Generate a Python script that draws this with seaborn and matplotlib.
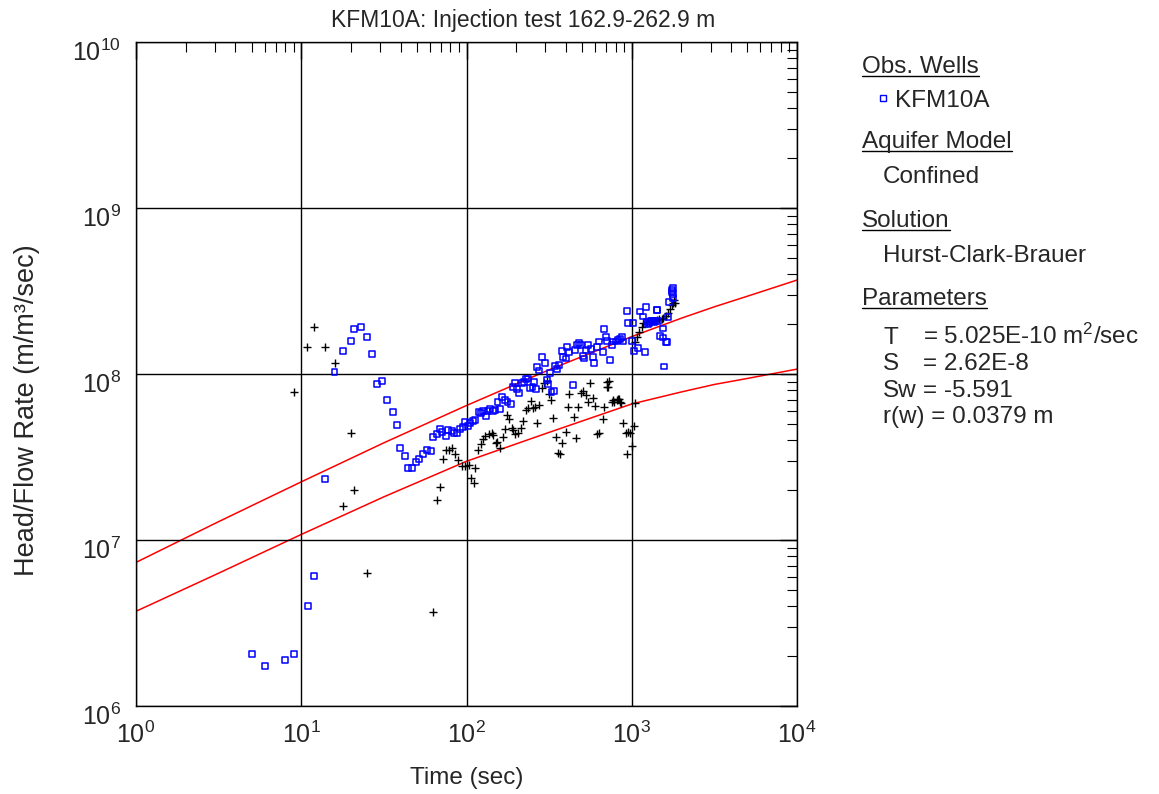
import numpy as np
import pandas as pd
import matplotlib
matplotlib.use("Agg")
import matplotlib.pyplot as plt
import seaborn as sns
from matplotlib.lines import Line2D
from matplotlib.transforms import ScaledTranslation
from matplotlib.ticker import LogLocator, FuncFormatter, NullFormatter

# ---------------- data ----------------
blue_t = [5.03, 6.04, 7.97, 9.04, 11.0, 11.9, 13.9, 15.9, 17.9, 19.9, 20.9, 23.1, 24.9, 26.8,
          28.9, 30.7, 33.0, 35.7, 37.8, 39.6, 42.6, 44.5, 46.8, 49.5, 51.8, 54.8, 57.7, 61.2,
          63.0, 66.0, 69.1, 71.4, 74.8, 77.6, 81.7, 84.4, 87.6, 91.7, 95.7, 98.4, 101.7, 105,
          109, 113, 119, 123, 126, 131, 134, 139, 144, 149, 154, 160, 165, 171, 177, 185, 192,
          197, 203, 209, 216, 223, 229, 237, 242, 251, 256, 263, 268, 276, 285, 299, 308, 313,
          320, 327, 338, 343, 355, 365, 377, 385, 400, 407, 419, 443, 454, 464, 482, 491, 504,
          514, 528, 546, 564, 585, 591, 614, 637, 667, 679, 698, 711, 738, 755, 774, 803, 829,
          849, 868, 889, 931, 953, 998, 1023, 1032, 1097, 1122, 1164, 1202, 1219, 1231, 1250,
          1276, 1300, 1320, 1339, 1360, 1383, 1415, 1429, 1448, 1483, 1538, 1553, 1567, 1611,
          1641, 1664, 1690, 1746, 1754, 1771, 1787, 1787]
blue_v = [2.06e6, 1.74e6, 1.89e6, 2.06e6, 4.0e6, 6.1e6, 2.32e7, 1.03e8, 1.38e8, 1.59e8, 1.87e8,
          1.93e8, 1.68e8, 1.32e8, 8.7e7, 9.1e7, 7.0e7, 5.9e7, 4.95e7, 3.6e7, 3.2e7, 2.73e7,
          2.73e7, 2.94e7, 3.09e7, 3.3e7, 3.5e7, 3.42e7, 4.16e7, 4.33e7, 4.68e7, 4.46e7, 4.25e7,
          4.6e7, 4.54e7, 4.42e7, 4.42e7, 4.64e7, 4.82e7, 5.12e7, 4.89e7, 5.05e7, 5.2e7, 5.3e7,
          5.93e7, 5.85e7, 6.0e7, 5.58e7, 6.0e7, 6.12e7, 6.0e7, 6.07e7, 6.8e7, 6.18e7, 7.24e7,
          6.97e7, 6.8e7, 6.6e7, 8.3e7, 8.8e7, 8.1e7, 7.66e7, 8.87e7, 9.0e7, 9.3e7, 9.4e7, 8.2e7,
          8.3e7, 9.0e7, 8.1e7, 1.10e8, 1.05e8, 1.27e8, 1.17e8, 9.2e7, 8.7e7, 1.01e8, 7.8e7,
          7.94e7, 1.12e8, 1.07e8, 1.13e8, 1.38e8, 1.27e8, 1.24e8, 1.46e8, 1.35e8, 8.6e7, 1.40e8,
          1.50e8, 1.53e8, 1.50e8, 1.28e8, 1.24e8, 1.40e8, 1.50e8, 1.41e8, 1.26e8, 1.17e8,
          1.46e8, 1.57e8, 1.35e8, 1.86e8, 1.68e8, 1.59e8, 1.21e8, 1.50e8, 1.57e8, 1.57e8,
          1.60e8, 1.62e8, 1.68e8, 1.57e8, 2.41e8, 2.04e8, 1.59e8, 2.04e8, 1.38e8, 1.43e8,
          2.38e8, 2.22e8, 1.35e8, 2.52e8, 2.07e8, 2.0e8, 2.02e8, 2.1e8, 2.09e8, 2.07e8, 2.05e8,
          2.09e8, 2.43e8, 2.43e8, 2.09e8, 1.69e8, 1.66e8, 1.88e8, 1.11e8, 1.55e8, 1.55e8,
          2.21e8, 2.73e8, 3.21e8, 3.13e8, 3.03e8, 2.86e8, 3.28e8]

cross_t = [9.04, 10.9, 12.0, 14.0, 16.0, 18.0, 19.9, 20.9, 25.0, 63.0, 66.0, 69.1, 72.4, 74.8,
           78.7, 82, 85.2, 88.4, 93.5, 98, 103, 107, 111, 112, 118, 122, 125, 129, 136, 142,
           145, 151, 154, 160, 166, 171, 177, 182, 188, 192, 197, 206, 213, 221, 229, 237, 244,
           251, 259, 266, 276, 285, 294, 306, 317, 323, 335, 348, 359, 368, 377, 400, 409, 419,
           448, 460, 475, 491, 509, 528, 546, 558, 585, 600, 619, 637, 667, 679, 705, 711, 721,
           731, 755, 766, 781, 811, 829, 841, 849, 857, 889, 922, 931, 953, 975, 998, 1032,
           1047, 1040, 1072, 1112, 1148, 1175, 1231, 1276, 1318, 1363, 1415, 1468, 1516, 1552,
           1611, 1664, 1703, 1743, 1785, 1800, 1827]
cross_v = [7.8e7, 1.46e8, 1.93e8, 1.46e8, 1.17e8, 1.61e7, 4.43e7, 2.01e7, 6.3e6, 3.7e6, 1.74e7,
           2.1e7, 3.06e7, 3.5e7, 3.5e7, 3.6e7, 3.3e7, 3.03e7, 2.81e7, 2.81e7, 2.83e7, 2.36e7,
           2.22e7, 2.73e7, 3.49e7, 3.79e7, 4.04e7, 4.23e7, 4.36e7, 4.44e7, 4.3e7, 3.86e7,
           3.91e7, 3.57e7, 4.16e7, 4.65e7, 5.66e7, 5.33e7, 4.71e7, 4.6e7, 4.36e7, 4.4e7, 4.71e7,
           5.24e7, 6.07e7, 6.21e7, 6.9e7, 6.21e7, 6.3e7, 5.05e7, 6.5e7, 8.2e7, 8.87e7, 9.1e7,
           7.59e7, 6.97e7, 5.41e7, 4.16e7, 3.33e7, 3.3e7, 3.82e7, 4.5e7, 6.36e7, 7.59e7, 5.48e7,
           4.09e7, 6.3e7, 7.66e7, 7.94e7, 7.48e7, 6.8e7, 8.87e7, 7.13e7, 6.41e7, 4.36e7, 4.4e7,
           5.33e7, 6.3e7, 9.0e7, 8.4e7, 8.3e7, 9.1e7, 6.8e7, 6.97e7, 6.8e7, 6.97e7, 7.03e7,
           7.03e7, 6.8e7, 6.65e7, 5.1e7, 4.4e7, 3.3e7, 4.5e7, 4.44e7, 3.68e7, 4.87e7, 6.65e7,
           1.55e8, 1.68e8, 1.80e8, 1.91e8, 2.02e8, 2.04e8, 2.07e8, 2.09e8, 2.09e8, 2.11e8,
           2.13e8, 2.13e8, 2.16e8, 2.23e8, 2.34e8, 2.45e8, 2.6e8, 2.69e8, 2.8e8, 2.67e8]

fit_t = [1, 3.162, 10, 31.62, 100, 316.2, 1000, 2000, 3162, 5000, 10000]
fit_upper = [7.33e6, 1.29e7, 2.24e7, 3.85e7, 6.46e7, 1.06e8, 1.68e8, 2.17e8, 2.54e8, 2.94e8,
             3.68e8]
fit_lower = [3.72e6, 6.31e6, 1.08e7, 1.82e7, 2.98e7, 4.45e7, 6.6e7, 7.8e7, 8.65e7, 9.4e7,
             1.07e8]

x_ticks = [1, 10, 100, 1000, 10000]
y_ticks = [1e6, 1e7, 1e8, 1e9, 1e10]

title = "KFM10A: Injection test 162.9-262.9 m"
xlabel = "Time (sec)"
ylabel = "Head/Flow Rate (m/m\u00b3/sec)"

# ---------------- style ----------------
sns.set_style("white")
plt.rcParams['font.family'] = ['Liberation Sans', 'DejaVu Sans']
plt.rcParams['mathtext.fontset'] = 'custom'
plt.rcParams['mathtext.rm'] = 'Liberation Sans'
plt.rcParams['mathtext.it'] = 'Liberation Sans:italic'
plt.rcParams['mathtext.bf'] = 'Liberation Sans:bold'

W, H = 1159, 794
fig = plt.figure(figsize=(W / 100, H / 100), dpi=100)
ax = fig.add_axes([136 / W, 1 - 706 / H, (797 - 136) / W, (706 - 42) / H])

FS = 17.5

df_fit = pd.DataFrame({"t": fit_t * 2,
                       "v": fit_upper + fit_lower,
                       "curve": ["upper"] * len(fit_t) + ["lower"] * len(fit_t)})
sns.lineplot(data=df_fit, x="t", y="v", units="curve", estimator=None, color="#ff0000",
             lw=1.1, ax=ax, sort=False)
sns.scatterplot(x=cross_t, y=cross_v, marker="+", s=32, color="black", linewidth=1.0, ax=ax,
                zorder=3)
sns.scatterplot(x=blue_t, y=blue_v, marker="s", s=18, fc="none", ec="#0000ff", linewidth=1.1,
                ax=ax, zorder=4)

ax.set_xscale("log")
ax.set_yscale("log")
ax.set_xlim(1, 1e4)
ax.set_ylim(1e6, 1e10)

fmt = FuncFormatter(lambda v, _: "$\\mathdefault{10^{%d}}$" % int(round(np.log10(v))))
ax.set_xticks(x_ticks)
ax.set_yticks(y_ticks)
ax.xaxis.set_major_formatter(fmt)
ax.yaxis.set_major_formatter(fmt)
ax.xaxis.set_minor_locator(LogLocator(base=10, subs=np.arange(2, 10), numticks=20))
ax.yaxis.set_minor_locator(LogLocator(base=10, subs=np.arange(2, 10), numticks=20))
ax.xaxis.set_minor_formatter(NullFormatter())
ax.yaxis.set_minor_formatter(NullFormatter())
ax.tick_params(which="both", direction="in", top=True, right=True, color="black",
               labelsize=FS + 0.5)
ax.tick_params(which="major", length=12, width=1)
ax.tick_params(which="minor", length=7, width=0.8)
ax.tick_params(axis="x", pad=11)
ax.tick_params(axis="y", pad=11)
ax.grid(which="major", color="black", lw=1)
ax.set_axisbelow(False)
for sp in ax.spines.values():
    sp.set_color("black")
    sp.set_linewidth(1)

# shift y tick labels slightly down like the reference
offset = ScaledTranslation(0, -8 / 100, fig.dpi_scale_trans)
for lbl in ax.get_yticklabels():
    lbl.set_transform(lbl.get_transform() + offset)

ax.set_xlabel(xlabel, fontsize=FS)
ax.set_ylabel(ylabel, fontsize=19.5)
ax.yaxis.set_label_coords((40 - 136) / 661, (706 - 410) / 664)
ax.xaxis.set_label_coords(0.5, -(778 - 706) / 664)
ax.xaxis.label.set_va("center")


def fy(y):
    return 1 - y / H


def fx(x):
    return x / W


fig.text(fx(523), fy(27), title, fontsize=16.5, ha="center", va="baseline")

# legend / annotation panel
headers = [("Obs. Wells", 73), ("Aquifer Model", 148), ("Solution", 227), ("Parameters", 305)]
items = [("KFM10A", 895, 107), ("Confined", 883, 183), ("Hurst-Clark-Brauer", 883, 262)]
fig.canvas.draw()
renderer = fig.canvas.get_renderer()
for txt, yb in headers:
    t = fig.text(fx(862), fy(yb), txt, fontsize=FS, ha="left", va="baseline")
    bb = t.get_window_extent(renderer=renderer)
    fig.add_artist(Line2D([bb.x0 / W, bb.x1 / W], [fy(yb + 3), fy(yb + 3)],
                          transform=fig.transFigure, color="black", lw=1))
for txt, x, yb in items:
    fig.text(fx(x), fy(yb), txt, fontsize=FS, ha="left", va="baseline")
fig.add_artist(Line2D([fx(883)], [fy(98)], transform=fig.transFigure, marker="s",
                      markersize=4.5, mfc="none", mec="#0000ff", mew=1, ls="none"))

params = [("T", "= 5.025E-10 m$^{2}$/sec", 344), ("S", "= 2.62E-8", 370),
          ("Sw", "= -5.591", 397)]
for lab, val, yb in params:
    fig.text(fx(883), fy(yb), lab, fontsize=FS, ha="left", va="baseline")
    fig.text(fx(923), fy(yb), val, fontsize=FS, ha="left", va="baseline")
fig.text(fx(883), fy(423), "r(w) = 0.0379 m", fontsize=FS, ha="left", va="baseline")

fig.savefig("out.png", dpi=100)
